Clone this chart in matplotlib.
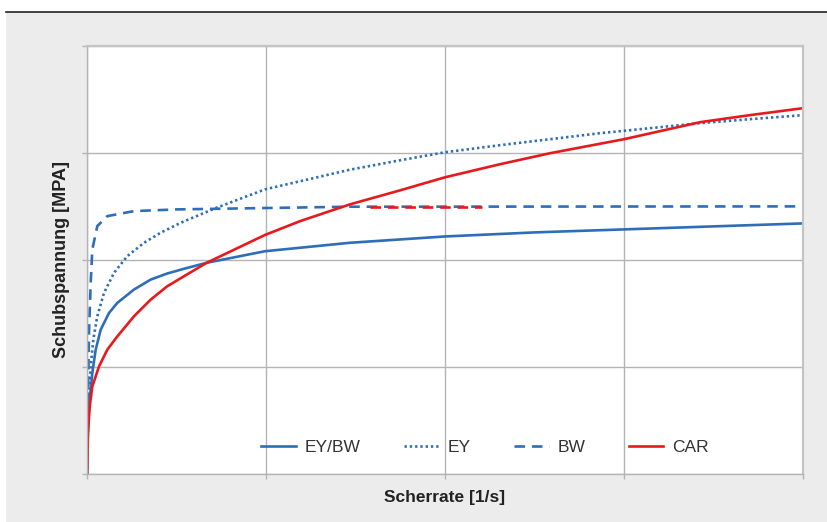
import matplotlib
matplotlib.use("Agg")
import matplotlib.pyplot as plt
from matplotlib.patches import Rectangle
from matplotlib.lines import Line2D

plt.rcParams['font.family'] = ['Liberation Sans', 'DejaVu Sans']

# shear rate [1/s] and shear stress [MPa] for the four flow models
ey_bw_x = [0, 0.4, 1.12, 2.96, 4.86, 7.65, 12.29, 16.93, 26.26, 35.59, 44.86, 54.19, 66.87,
           99.44, 146.93, 200, 250.3, 300, 349.7, 400]
ey_bw_y = [0, 3.5, 6.30, 9.43, 11.62, 13.49, 15.05, 15.99, 17.24, 18.17, 18.74, 19.18, 19.74,
           20.82, 21.61, 22.20, 22.58, 22.86, 23.14, 23.42]

ey_x = [0, 0.56, 1.0, 2.07, 3.52, 5.75, 9.50, 15.08, 22.51, 31.84, 41.17, 52.35, 72.46, 99.44,
        146.93, 174.9, 200, 230.7, 258.7, 286.6, 314.5, 342.5, 370.4, 400]
ey_y = [0, 5.34, 7.5, 10.05, 12.55, 14.74, 16.93, 18.80, 20.36, 21.61, 22.55, 23.48, 24.89, 26.60,
        28.44, 29.32, 30.07, 30.73, 31.29, 31.85, 32.32, 32.79, 33.16, 33.54]

bw_x = [0, 0.17, 0.56, 1.12, 2.07, 2.96, 5.75, 11.34, 26.26, 50.45, 146.93, 400]
bw_y = [0, 2.25, 6.93, 13.21, 17.89, 20.98, 23.17, 24.10, 24.57, 24.73, 24.98, 25.01]

car_x = [0, 0.17, 0.56, 1.51, 2.96, 6.70, 11.34, 16.93, 26.26, 35.59, 44.86, 54.19, 66.87,
         99.44, 118.99, 146.93, 174.9, 200, 230.7, 258.7, 300, 342.5, 370.4, 400]
car_y = [0, 0.68, 3.84, 6.30, 8.18, 10.05, 11.62, 12.86, 14.74, 16.30, 17.55, 18.48, 19.74,
         22.34, 23.63, 25.20, 26.51, 27.73, 28.95, 29.98, 31.29, 32.88, 33.54, 34.19]

# short red dashed piece lying on the BW plateau
car_dash_x = [158.1, 220.7]
car_dash_y = [25.0, 25.0]

blue = '#2e6eb8'
red = '#e8191c'
grid_c = '#b4b4b4'

fig = plt.figure(figsize=(8.27, 5.22), dpi=100, facecolor='white')
fig.patches.append(Rectangle((6 / 827, 0), 1, 1 - 12 / 522, transform=fig.transFigure,
                             facecolor='#ececec', edgecolor='none', zorder=-10))
fig.lines.append(Line2D([6 / 827, 1], [1 - 12 / 522, 1 - 12 / 522], transform=fig.transFigure,
                        color='#222222', lw=1.2))

ax = fig.add_axes([87 / 827, 48 / 522, 716 / 827, 428 / 522])
ax.set_facecolor('white')

ax.plot(ey_bw_x, ey_bw_y, color=blue, lw=1.9, label='EY/BW')
ax.plot(ey_x, ey_y, color=blue, lw=1.9, linestyle=(0, (0.9, 1.1)), label='EY')
ax.plot(bw_x, bw_y, color=blue, lw=1.9, linestyle=(0, (4, 2.6)), label='BW')
ax.plot(car_x, car_y, color=red, lw=1.9, label='CAR')
ax.plot(car_dash_x, car_dash_y, color=red, lw=1.9, linestyle=(0, (4, 2.6)))

ax.set_xlim(0, 400)
ax.set_ylim(0, 40)
ax.set_xticks([0, 100, 200, 300, 400])
ax.set_yticks([0, 10, 20, 30, 40])
ax.grid(True, color=grid_c, lw=1)
ax.set_axisbelow(True)
ax.tick_params(direction='out', length=3.5, color=grid_c, width=1,
               labelbottom=False, labelleft=False)
for side, sp in ax.spines.items():
    sp.set_color('#c4c4c4' if side in ('top', 'right') else grid_c)
    sp.set_linewidth(1.6 if side in ('top', 'right') else 1)

ax.set_xlabel('Scherrate [1/s]', fontsize=12.5, fontweight='bold', color='#222222', labelpad=8)
ax.set_ylabel('Schubspannung [MPA]', fontsize=13, fontweight='bold', color='#222222', labelpad=9)

ax.legend(loc='center', bbox_to_anchor=(0.556, 0.063), ncol=4, frameon=False,
          fontsize=12.5, labelcolor='#333333', handlelength=2.0, handletextpad=0.5,
          columnspacing=2.5)

fig.savefig('out.png', dpi=100, facecolor=fig.get_facecolor())
